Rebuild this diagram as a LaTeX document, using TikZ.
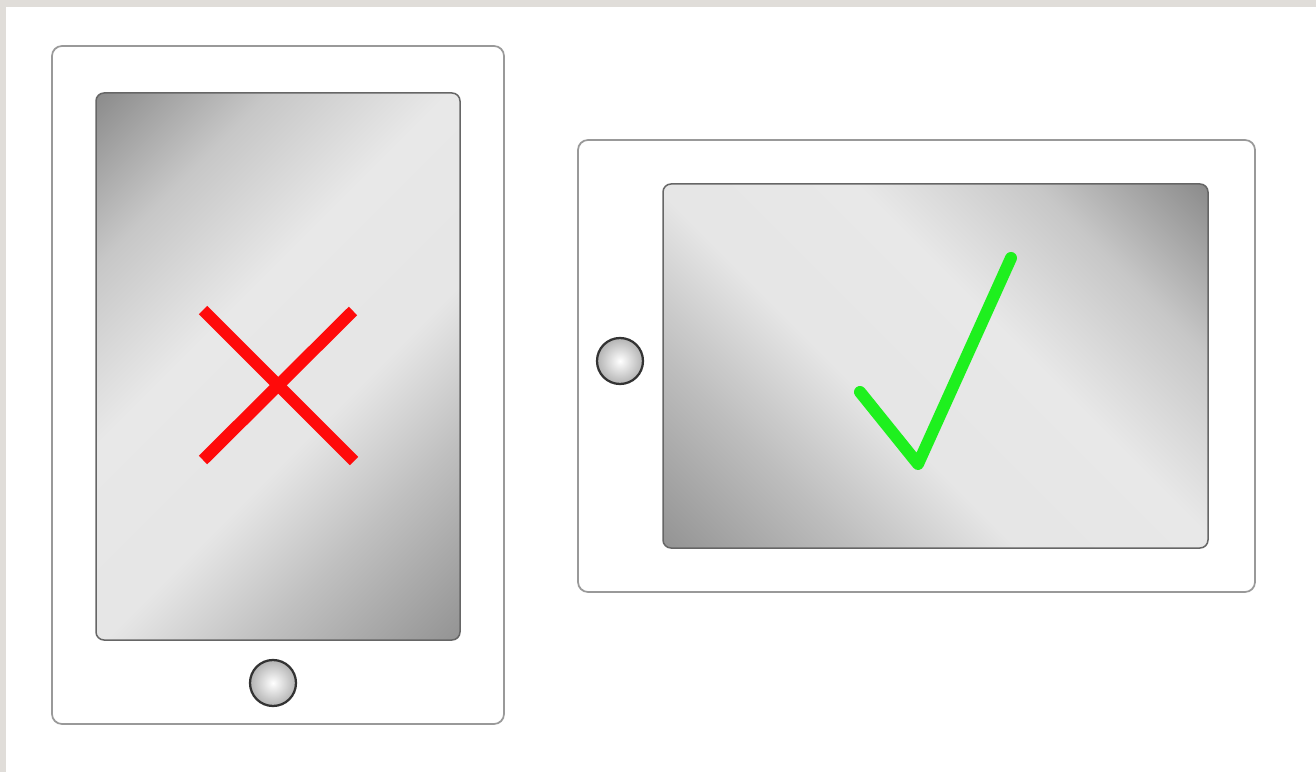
\documentclass[tikz,border=0pt]{standalone}
\definecolor{framegray}{HTML}{E0DDD9}
\definecolor{crossred}{HTML}{FF0A0A}
\definecolor{tickgreen}{HTML}{1EF01E}
\pgfdeclareverticalshading{screenglow}{100bp}{color(0bp)=(black!48); color(12bp)=(black!45); color(30bp)=(black!25); color(42bp)=(black!10); color(58bp)=(black!9); color(72bp)=(black!22); color(88bp)=(black!50); color(100bp)=(black!55)}
\tikzset{
    tablet/.style={draw=black!40,line width=0.35mm,fill=white,rounded corners=2mm},
    screen/.style={draw=black!60,line width=0.3mm,rounded corners=1.6mm,shading=screenglow},
    homebutton/.style={draw=black!80,line width=0.45mm,inner color=white,outer color=black!30},
}
\begin{document}
\begin{tikzpicture}[x=0.2mm,y=-0.2mm]
    % page
    \fill[framegray] (0,0) rectangle (1316,772);
    \fill[white] (6,7) rectangle (1316,772);
    \useasboundingbox (0,0) rectangle (1316,772);

    % portrait tablet
    \draw[tablet] (52,46) rectangle (504,724);
    \shadedraw[screen,shading angle=45] (96,93) rectangle (460,640);
    \shadedraw[homebutton] (273,683) circle (23);
    \draw[crossred,line width=2.4mm] (203,310) -- (354,461);
    \draw[crossred,line width=2.4mm] (353,311) -- (203,460);

    % landscape tablet
    \draw[tablet] (578,140) rectangle (1255,592);
    \shadedraw[screen,shading angle=-45] (663,184) rectangle (1208,548);
    \shadedraw[homebutton] (620,361) circle (23);
    \draw[tickgreen,line width=2.4mm,line cap=round,line join=round]
        (860,392) -- (918,464) -- (1011,258);
\end{tikzpicture}
\end{document}
